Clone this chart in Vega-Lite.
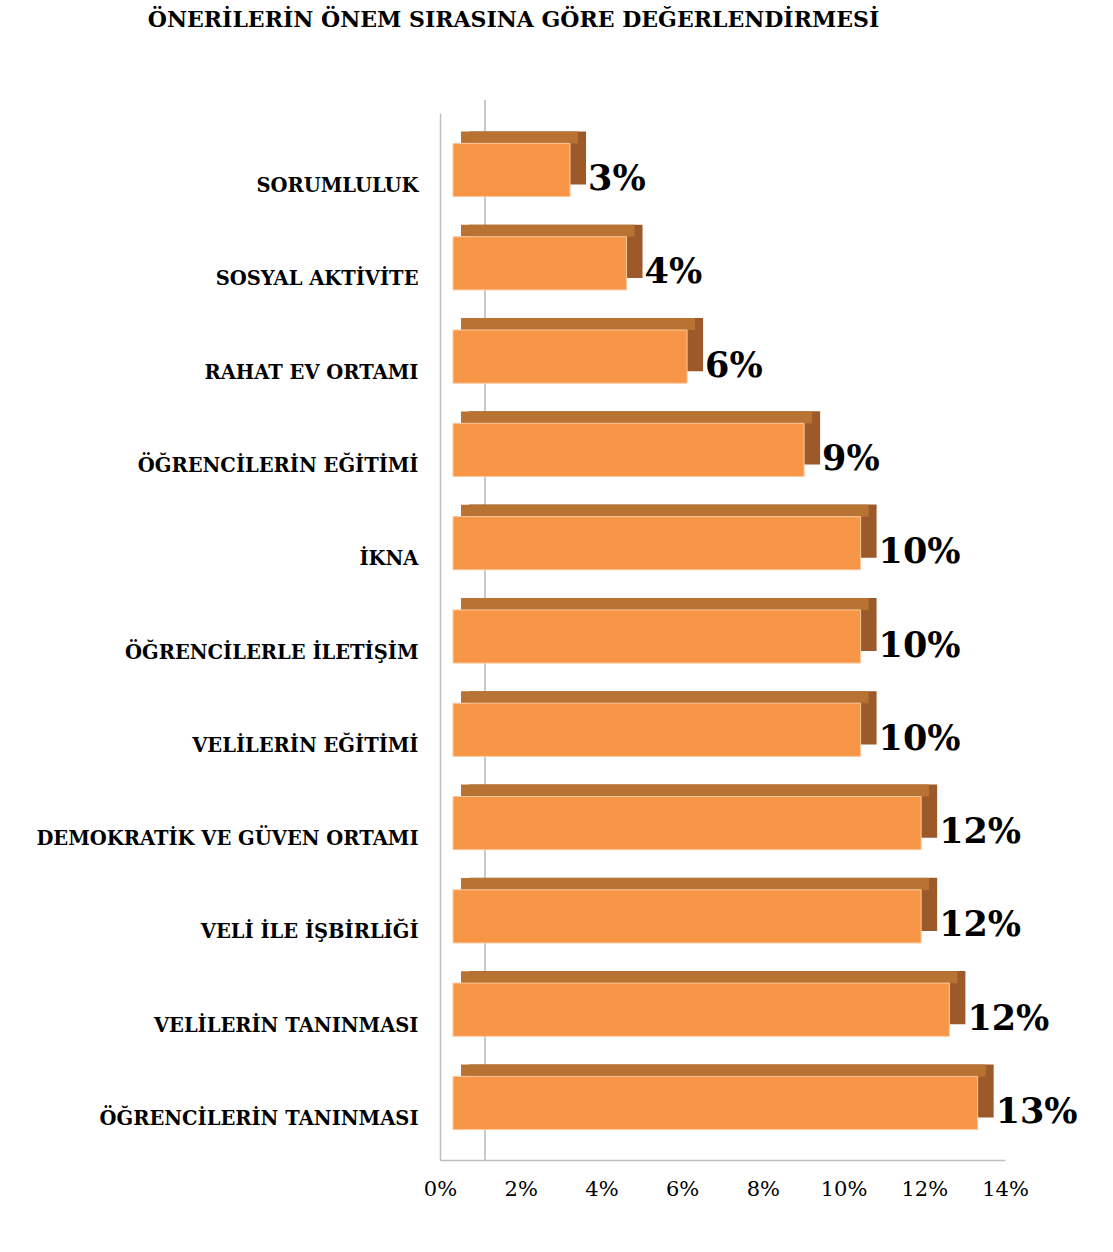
{
  "$schema": "https://vega.github.io/schema/vega-lite/v6.json",
  "autosize": "none",
  "width": 565,
  "height": 1047,
  "padding": {"left": 440, "top": 113, "right": 108, "bottom": 92},
  "background": "white",
  "config": {"view": {"stroke": null}, "font": "DejaVu Serif"},
  "title": {
    "text": "ÖNERİLERİN ÖNEM SIRASINA GÖRE DEĞERLENDİRMESİ",
    "font": "DejaVu Serif", "fontSize": 22, "fontWeight": "bold", "color": "#000000",
    "anchor": "middle", "frame": "group", "dx": -209, "offset": 50, "baseline": "alphabetic"
  },
  "data": {"values": [
    {"oneri": "SORUMLULUK", "oran": 0.029, "etiket": "3%"},
    {"oneri": "SOSYAL AKTİVİTE", "oran": 0.043, "etiket": "4%"},
    {"oneri": "RAHAT EV ORTAMI", "oran": 0.058, "etiket": "6%"},
    {"oneri": "ÖĞRENCİLERİN EĞİTİMİ", "oran": 0.087, "etiket": "9%"},
    {"oneri": "İKNA", "oran": 0.101, "etiket": "10%"},
    {"oneri": "ÖĞRENCİLERLE İLETİŞİM", "oran": 0.101, "etiket": "10%"},
    {"oneri": "VELİLERİN EĞİTİMİ", "oran": 0.101, "etiket": "10%"},
    {"oneri": "DEMOKRATİK VE GÜVEN ORTAMI", "oran": 0.116, "etiket": "12%"},
    {"oneri": "VELİ İLE İŞBİRLİĞİ", "oran": 0.116, "etiket": "12%"},
    {"oneri": "VELİLERİN TANINMASI", "oran": 0.123, "etiket": "12%"},
    {"oneri": "ÖĞRENCİLERİN TANINMASI", "oran": 0.130, "etiket": "13%"}
  ]},
  "layer": [
    {
      "mark": {"type": "rule", "color": "#C8C8C8", "strokeWidth": 1.5, "xOffset": 45, "yOffset": -13},
      "encoding": {"x": {"datum": 0, "type": "quantitative"}}
    },
    {
      "mark": {"type": "bar", "color": "#9C5A2A", "xOffset": 29, "yOffset": -12, "height": {"band": 0.57}},
      "encoding": {
        "y": {"field": "oneri", "type": "nominal", "sort": null},
        "x": {"field": "oran", "type": "quantitative"}
      }
    },
    {
      "mark": {"type": "bar", "color": "#B87333", "xOffset": 21, "yOffset": -32.5, "height": 12},
      "encoding": {
        "y": {"field": "oneri", "type": "nominal", "sort": null},
        "x": {"field": "oran", "type": "quantitative"}
      }
    },
    {
      "mark": {"type": "bar", "color": "#F79646", "stroke": "#FBC99D", "strokeWidth": 1, "xOffset": 13, "height": {"band": 0.57}},
      "encoding": {
        "y": {
          "field": "oneri", "type": "nominal", "sort": null, "title": null,
          "scale": {"paddingInner": 0, "paddingOuter": 0.111},
          "axis": {
            "domain": true, "domainColor": "#BFBFBF", "domainWidth": 1.5, "ticks": false,
            "labelFont": "DejaVu Serif", "labelFontSize": 19.5, "labelFontWeight": "bold",
            "labelColor": "#000000", "labelPadding": 22, "labelOffset": 16, "labelLimit": 500
          }
        },
        "x": {
          "field": "oran", "type": "quantitative", "title": null,
          "scale": {"domain": [0, 0.14], "nice": false},
          "axis": {
            "format": ".0%", "values": [0, 0.02, 0.04, 0.06, 0.08, 0.1, 0.12, 0.14],
            "grid": false, "ticks": false, "domainColor": "#BFBFBF", "domainWidth": 1.5,
            "labelFont": "DejaVu Serif", "labelFontSize": 21, "labelColor": "#000000",
            "labelPadding": 18, "labelFlush": false, "labelOverlap": false
          }
        }
      }
    },
    {
      "mark": {"type": "text", "align": "left", "baseline": "middle", "dx": 31, "dy": 9,
               "font": "DejaVu Serif", "fontSize": 35, "fontWeight": "bold", "color": "#000000"},
      "encoding": {
        "y": {"field": "oneri", "type": "nominal", "sort": null},
        "x": {"field": "oran", "type": "quantitative"},
        "text": {"field": "etiket"}
      }
    }
  ]
}
